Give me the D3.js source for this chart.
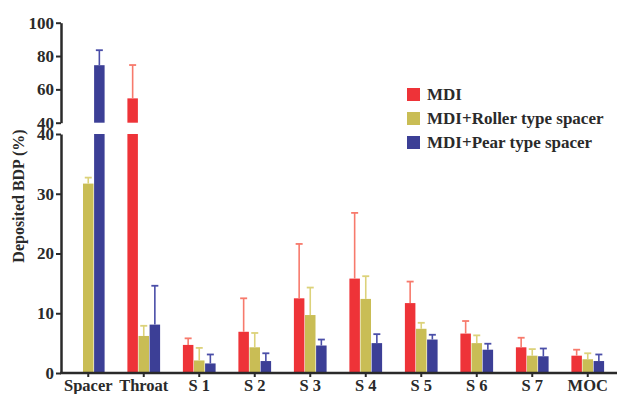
<!DOCTYPE html>
<html>
<head>
<meta charset="utf-8">
<script src="https://cdn.jsdelivr.net/npm/d3@7"></script>
<style>
  body { margin: 0; background: #fff; }
  text { font-family: "Liberation Serif", "Times New Roman", serif; font-weight: bold; fill: #2a2a2a; }
</style>
</head>
<body>
<div id="chart-area"></div>
<script>
const categories = ["Spacer", "Throat", "S 1", "S 2", "S 3", "S 4", "S 5", "S 6", "S 7", "MOC"]
const series = ["MDI", "MDI+Roller type spacer", "MDI+Pear type spacer"]
const mdi = [null, 54.6, 4.7, 6.9, 12.5, 15.8, 11.7, 6.6, 4.3, 2.9]
const mdiErr = [null, 20, 1.1, 5.6, 9.1, 11, 3.6, 2.1, 1.6, 1.0]
const roller = [31.7, 6.2, 2.1, 4.3, 9.7, 12.4, 7.4, 5.0, 2.9, 2.3]
const rollerErr = [1.0, 1.7, 2.1, 2.4, 4.6, 3.8, 1.0, 1.3, 1.1, 1.0]
const pear = [74.5, 8.1, 1.6, 2.0, 4.6, 5.0, 5.6, 3.9, 2.8, 2.0]
const pearErr = [9, 6.5, 1.5, 1.3, 1.0, 1.5, 0.8, 1.0, 1.3, 1.1]
const lowTicks = [0, 10, 20, 30, 40]
const highTicks = [40, 60, 80, 100]

const colors = ["#ee3338", "#c9bd55", "#3c3f96"]
const errColors = ["#f77a6c", "#dcd27a", "#4a4ea8"]

const w = 617, h = 394

const svg = d3.select("#chart-area")
  .append("svg")
  .attr("width", w)
  .attr("height", h)

// two y segments with a break at 40
const yLow = d3.scaleLinear().domain([0, 40]).range([373, 134])
const yHigh = d3.scaleLinear().domain([40, 100]).range([122.7, 22.7])

const x = d3.scaleBand().domain(categories).range([60.5, 615.5]).paddingInner(0.4).paddingOuter(0.2)
const xs = d3.scaleBand().domain(series).range([0, x.bandwidth()])

const rows = categories.map((c, i) => ({
  cat: c,
  vals: [
    { s: series[0], v: mdi[i], e: mdiErr[i], k: 0 },
    { s: series[1], v: roller[i], e: rollerErr[i], k: 1 },
    { s: series[2], v: pear[i], e: pearErr[i], k: 2 }
  ].filter(d => d.v != null)
}))

const groups = svg.selectAll(".grp")
  .data(rows)
  .enter()
  .append("g")
  .attr("class", "grp")
  .attr("transform", d => "translate(" + x(d.cat) + ",0)")

const bars = groups.selectAll(".bar")
  .data(d => d.vals)
  .enter()
  .append("g")
  .attr("class", "bar")

// lower part
bars.append("rect")
  .attr("x", d => xs(d.s) + 0.3)
  .attr("width", xs.bandwidth() - 0.6)
  .attr("y", d => yLow(Math.min(d.v, 40)))
  .attr("height", d => yLow(0) - yLow(Math.min(d.v, 40)))
  .attr("fill", d => colors[d.k])

// upper part for broken bars
bars.filter(d => d.v > 40)
  .append("rect")
  .attr("x", d => xs(d.s) + 0.3)
  .attr("width", xs.bandwidth() - 0.6)
  .attr("y", d => yHigh(d.v))
  .attr("height", d => yHigh(40) - yHigh(d.v))
  .attr("fill", d => colors[d.k])

const yOf = v => v > 40 ? yHigh(v) : yLow(v)

// error bars (upper only)
bars.append("line")
  .attr("x1", d => xs(d.s) + xs.bandwidth() / 2)
  .attr("x2", d => xs(d.s) + xs.bandwidth() / 2)
  .attr("y1", d => yOf(d.v))
  .attr("y2", d => yOf(d.v + d.e))
  .attr("stroke", d => errColors[d.k])
  .attr("stroke-width", 1.6)

bars.append("line")
  .attr("x1", d => xs(d.s) + xs.bandwidth() / 2 - 3.5)
  .attr("x2", d => xs(d.s) + xs.bandwidth() / 2 + 3.5)
  .attr("y1", d => yOf(d.v + d.e))
  .attr("y2", d => yOf(d.v + d.e))
  .attr("stroke", d => errColors[d.k])
  .attr("stroke-width", 1.8)

// axes
const axisStyle = (g, size) => {
  g.select(".domain").attr("stroke", "#2a2a2a").attr("stroke-width", 2.5)
  g.selectAll(".tick line").attr("stroke", "#2a2a2a").attr("stroke-width", 2)
  g.selectAll(".tick text").style("font-family", "Liberation Serif, serif").style("font-weight", "bold").style("font-size", size).attr("fill", "#2a2a2a")
}

svg.append("g")
  .attr("transform", "translate(61,0)")
  .call(d3.axisLeft(yLow).tickValues(lowTicks).tickSize(5).tickSizeOuter(0).tickPadding(2))
  .call(axisStyle, "17px")

svg.append("g")
  .attr("transform", "translate(61,0)")
  .call(d3.axisLeft(yHigh).tickValues(highTicks).tickSize(5).tickSizeOuter(0).tickPadding(2))
  .call(axisStyle, "17px")

const xAxis = svg.append("g")
  .attr("transform", "translate(0,373)")
  .call(d3.axisBottom(x).tickSize(4).tickSizeOuter(0).tickPadding(2))
  .call(axisStyle, "16.5px")
xAxis.select(".domain").attr("d", "M60,0H617")

svg.append("text")
  .attr("transform", "translate(24,196) rotate(-90)")
  .attr("text-anchor", "middle")
  .style("font-size", "16px")
  .text("Deposited BDP (%)")

// legend
const legend = svg.append("g")
  .attr("transform", "translate(407,88)")

const li = legend.selectAll("g")
  .data(series)
  .enter()
  .append("g")
  .attr("transform", (d, i) => "translate(0," + (i * 24) + ")")

li.append("rect")
  .attr("width", 13)
  .attr("height", 13)
  .attr("fill", (d, i) => colors[i])

li.append("text")
  .attr("x", 20)
  .attr("y", 12)
  .style("font-size", "17px")
  .text(d => d)
</script>
</body>
</html>
